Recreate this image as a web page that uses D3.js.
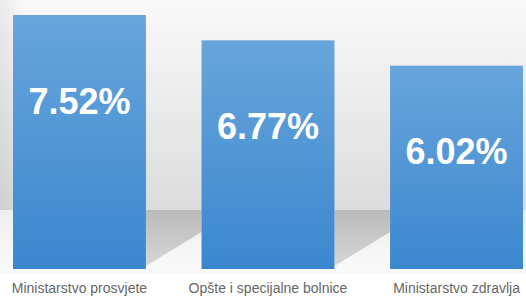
<!DOCTYPE html>
<html>
<head>
<meta charset="utf-8">
<script src="https://cdn.jsdelivr.net/npm/d3@7"></script>
<style>
body{margin:0;padding:0;background:#fff;overflow:hidden;}
svg{display:block;}
</style>
</head>
<body>
<script>
var categories = ["Ministarstvo prosvjete", "Opšte i specijalne bolnice", "Ministarstvo zdravlja"];
var values = [7.52, 6.77, 6.02];
var valueLabels = ["7.52%", "6.77%", "6.02%"];

var width = 526;
var height = 296;
var baseY = 269;
var floorTop = 210;

var svg = d3.select('body').append('svg').attr('width',width).attr('height',height);

var x = d3.scaleBand().domain(categories).range([13,523]).paddingInner(0.295).paddingOuter(0);
var y = d3.scaleLinear().domain([0,8]).range([baseY, baseY - 254*8/7.52]);

var defs = svg.append('defs');

var wall = defs.append('linearGradient').attr('id','wall').attr('x1',0).attr('y1',0).attr('x2',0).attr('y2',1);
wall.append('stop').attr('offset','0').attr('stop-color','#f9f9f9');
wall.append('stop').attr('offset','1').attr('stop-color','#dcdcdc');

var wallSide = defs.append('linearGradient').attr('id','wallSide').attr('x1',0).attr('y1',0).attr('x2',1).attr('y2',0);
wallSide.append('stop').attr('offset','0').attr('stop-color','#000').attr('stop-opacity',0.06);
wallSide.append('stop').attr('offset','1').attr('stop-color','#000').attr('stop-opacity',0);

var floor = defs.append('linearGradient').attr('id','floor').attr('x1',0).attr('y1',0).attr('x2',0).attr('y2',1);
floor.append('stop').attr('offset','0').attr('stop-color','#eeeeee');
floor.append('stop').attr('offset','1').attr('stop-color','#fafafa');

var shadow = defs.append('linearGradient').attr('id','shadow').attr('x1',0).attr('y1',0).attr('x2',0).attr('y2',1);
shadow.append('stop').attr('offset','0').attr('stop-color','#bababa');
shadow.append('stop').attr('offset','1').attr('stop-color','#d6d6d6');

var barFill = defs.append('linearGradient').attr('id','barFill').attr('x1',0).attr('y1',0).attr('x2',0).attr('y2',1);
barFill.append('stop').attr('offset','0').attr('stop-color','#67a5dc');
barFill.append('stop').attr('offset','1').attr('stop-color','#3b87ce');

// back wall + floor
svg.append('rect').attr('x',0).attr('y',0).attr('width',width).attr('height',floorTop).attr('fill','url(#wall)');
svg.append('rect').attr('x',0).attr('y',0).attr('width',24).attr('height',floorTop).attr('fill','url(#wallSide)');
svg.append('rect').attr('x',0).attr('y',floorTop).attr('width',width).attr('height',baseY + 6 - floorTop).attr('fill','url(#floor)');
svg.append('rect').attr('x',0).attr('y',baseY + 6).attr('width',width).attr('height',height - baseY - 6).attr('fill','#ffffff');

// shadows cast into the gaps between bars
svg.selectAll('path.shadow')
        .data(categories.slice(0,-1))
        .enter().append('path')
                .attr('class','shadow')
                .attr('fill','url(#shadow)')
                .attr('d',function(d,i){
                        var r = x(d) + x.bandwidth();
                        var l = x(categories[i+1]);
                        return "M"+r+","+floorTop+"L"+l+","+floorTop+" "+l+","+(floorTop+22)+" "+r+","+(baseY-3)+"Z";
                });

svg.selectAll('rect.bar')
        .data(values)
        .enter().append('rect')
                .attr('class','bar')
                .attr('x',function(d,i){ return x(categories[i]); })
                .attr('y',function(d){ return y(d); })
                .attr('width',x.bandwidth())
                .attr('height',function(d){ return baseY - y(d); })
                .attr('fill','url(#barFill)');

svg.selectAll('text.value')
        .data(values)
        .enter().append('text')
                .attr('class','value')
                .attr('x',function(d,i){ return x(categories[i]) + x.bandwidth()/2; })
                .attr('y',function(d){ return y(d) + 86; })
                .attr('text-anchor','middle')
                .attr('dominant-baseline','central')
                .attr('fill','#ffffff')
                .attr('font-family','"Liberation Sans", Arial, sans-serif')
                .attr('font-weight','bold')
                .attr('font-size','36px')
                .text(function(d,i){ return valueLabels[i]; });

svg.selectAll('text.cat')
        .data(categories)
        .enter().append('text')
                .attr('class','cat')
                .attr('x',function(d){ return x(d) + x.bandwidth()/2; })
                .attr('y',293)
                .attr('text-anchor','middle')
                .attr('fill','#666666')
                .attr('font-family','"Liberation Sans", Arial, sans-serif')
                .attr('font-size','14px')
                .text(function(d){ return d; });
</script>
</body>
</html>
